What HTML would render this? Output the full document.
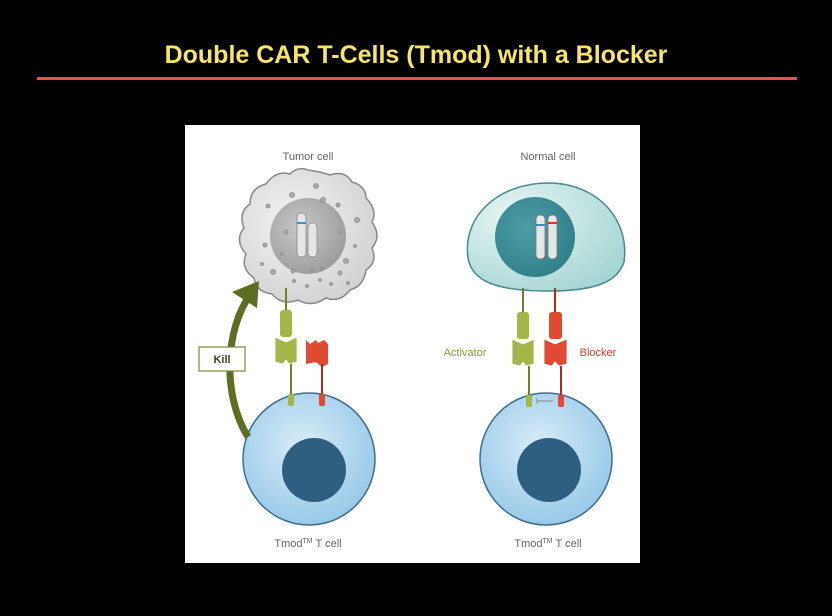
<!DOCTYPE html>
<html><head><style>
html,body{margin:0;padding:0;background:#000;}
body{width:832px;height:616px;overflow:hidden;position:relative;font-family:"Liberation Sans",sans-serif;}
</style></head><body>
<svg width="832" height="616" viewBox="0 0 832 616" xmlns="http://www.w3.org/2000/svg" style="position:absolute;left:0;top:0">
<defs>
<radialGradient id="tum" cx="0.4" cy="0.4" r="0.7"><stop offset="0" stop-color="#f4f4f4"/><stop offset="1" stop-color="#cfcfcf"/></radialGradient>
<radialGradient id="tnuc" cx="0.4" cy="0.4" r="0.7"><stop offset="0" stop-color="#c8c8c8"/><stop offset="1" stop-color="#999"/></radialGradient>
<radialGradient id="tc" cx="0.45" cy="0.4" r="0.7"><stop offset="0" stop-color="#d9ecf8"/><stop offset="1" stop-color="#8ec4e6"/></radialGradient>
<radialGradient id="nc" cx="0.3" cy="0.3" r="0.8"><stop offset="0" stop-color="#e6f5f3"/><stop offset="1" stop-color="#a6d6d4"/></radialGradient>
<radialGradient id="nn" cx="0.4" cy="0.4" r="0.7"><stop offset="0" stop-color="#4e9ea6"/><stop offset="1" stop-color="#2f7c86"/></radialGradient>
</defs>
<text x="416" y="63" text-anchor="middle" font-size="25" font-weight="bold" fill="#f5e56b">Double CAR T-Cells (Tmod) with a Blocker</text>
<rect x="37" y="77" width="760" height="3" fill="#e8533f"/>
<rect x="185" y="125" width="455" height="438" fill="#fff"/>
<text x="308" y="160" text-anchor="middle" font-size="11" fill="#666">Tumor cell</text>
<text x="548" y="160" text-anchor="middle" font-size="11" fill="#666">Normal cell</text>
<!-- tumor cell -->
<path d="M308,170 Q322,172 330,175 Q345,170 352,182 Q366,186 366,198 Q378,210 372,222 Q382,236 372,248 Q378,262 366,270 Q364,286 350,290 Q340,303 326,298 Q312,308 298,300 Q282,306 272,294 Q256,292 254,278 Q240,268 246,254 Q234,240 244,228 Q238,212 250,204 Q250,188 266,184 Q276,170 290,174 Q298,166 308,170 Z" fill="url(#tum)" stroke="#888" stroke-width="1.5"/>
<circle cx="308" cy="236" r="38" fill="url(#tnuc)"/>
<rect x="297" y="213" width="9" height="44" rx="4" fill="#e6e6e6" stroke="#888" stroke-width="0.8"/>
<rect x="297" y="222" width="9" height="2" fill="#3a8fc0"/>
<rect x="308" y="223" width="9" height="34" rx="4" fill="#e6e6e6" stroke="#888" stroke-width="0.8"/>
<g fill="#aaa" stroke="#888" stroke-width="0.8">
<circle cx="316" cy="186" r="2.5"/><circle cx="292" cy="195" r="2.5"/><circle cx="323" cy="200" r="2.5"/><circle cx="338" cy="205" r="2"/><circle cx="268" cy="206" r="2"/><circle cx="357" cy="220" r="2.5"/><circle cx="265" cy="245" r="2"/><circle cx="340" cy="232" r="1.5"/><circle cx="355" cy="246" r="1.5"/><circle cx="262" cy="264" r="1.5"/><circle cx="346" cy="261" r="2.5"/><circle cx="340" cy="273" r="2"/><circle cx="273" cy="272" r="2.5"/><circle cx="293" cy="271" r="2"/><circle cx="294" cy="281" r="1.5"/><circle cx="307" cy="286" r="1.5"/><circle cx="320" cy="280" r="1.5"/><circle cx="331" cy="284" r="1.5"/><circle cx="348" cy="283" r="1.5"/><circle cx="312" cy="270" r="1.5"/><circle cx="322" cy="269" r="1.5"/><circle cx="286" cy="232" r="2"/><circle cx="282" cy="254" r="1.5"/>
</g>
<!-- normal cell -->
<path d="M468,258 C462,215 500,183 548,183 C598,183 630,220 624,262 C618,280 600,291 548,291 C498,291 472,282 468,258 Z" fill="url(#nc)" stroke="#4a8a8c" stroke-width="1.5"/>
<circle cx="535" cy="237" r="40" fill="url(#nn)"/>
<rect x="536" y="215" width="9" height="44" rx="4" fill="#e6e6e6" stroke="#777" stroke-width="0.8"/>
<rect x="536" y="224" width="9" height="2" fill="#3a8fc0"/>
<rect x="548" y="215" width="9" height="44" rx="4" fill="#e6e6e6" stroke="#777" stroke-width="0.8"/>
<rect x="548" y="222" width="9" height="2" fill="#d23a2a"/>
<!-- T cells -->
<circle cx="309" cy="459" r="66" fill="url(#tc)" stroke="#3e6f8c" stroke-width="1.5"/>
<circle cx="314" cy="470" r="32" fill="#2f5f80"/>
<circle cx="546" cy="459" r="66" fill="url(#tc)" stroke="#3e6f8c" stroke-width="1.5"/>
<circle cx="549" cy="470" r="32" fill="#2f5f80"/>
<!-- left receptors -->
<g>
<line x1="286" y1="288" x2="286" y2="312" stroke="#6f7f2a" stroke-width="2"/>
<rect x="280" y="310" width="12" height="27" rx="3" fill="#a3b64a"/>
<path d="M275,337 L286,342 L297,337 L297,362 L289,364 L286,360 L283,364 L275,362 Z" fill="#a3b64a" stroke="#fff" stroke-width="0.8"/>
<line x1="291" y1="364" x2="291" y2="395" stroke="#6f7f2a" stroke-width="2"/>
<rect x="288" y="394" width="6" height="12" rx="2" fill="#a3b64a"/>
<path d="M306,340 L310,344 L316,340 L318,343 L324,340 L328,344 L328,364 L322,367 L316,362 L306,364 Z" fill="#e04a30"/>
<line x1="322" y1="364" x2="322" y2="395" stroke="#a33020" stroke-width="2"/>
<rect x="319" y="394" width="6" height="12" rx="2" fill="#e04a30"/>
</g>
<!-- right receptors -->
<g>
<line x1="523" y1="288" x2="523" y2="314" stroke="#6f7f2a" stroke-width="2"/>
<rect x="517" y="312" width="12" height="27" rx="3" fill="#a3b64a"/>
<path d="M512,339 L523,344 L534,339 L534,364 L526,366 L523,362 L520,366 L512,364 Z" fill="#a3b64a" stroke="#fff" stroke-width="0.8"/>
<line x1="529" y1="366" x2="529" y2="396" stroke="#6f7f2a" stroke-width="2"/>
<rect x="526" y="395" width="6" height="12" rx="2" fill="#a3b64a"/>
<line x1="555" y1="288" x2="555" y2="314" stroke="#a33020" stroke-width="2"/>
<rect x="549" y="312" width="13" height="27" rx="3" fill="#e04a30"/>
<path d="M544,339 L555,344 L567,339 L567,364 L559,366 L555,362 L552,366 L544,364 Z" fill="#e04a30" stroke="#fff" stroke-width="0.8"/>
<line x1="561" y1="366" x2="561" y2="396" stroke="#a33020" stroke-width="2"/>
<rect x="558" y="395" width="6" height="12" rx="2" fill="#e04a30"/>
<line x1="537" y1="401" x2="553" y2="401" stroke="#888" stroke-width="1"/>
<line x1="537" y1="398" x2="537" y2="404" stroke="#888" stroke-width="1"/>
</g>
<text x="465" y="356" text-anchor="middle" font-size="11" fill="#8a9a3a">Activator</text>
<text x="598" y="356" text-anchor="middle" font-size="11" fill="#c8402a">Blocker</text>
<!-- kill arrow -->
<path d="M248,437 C222,395 225,330 250,295" fill="none" stroke="#5b6e23" stroke-width="7"/>
<path d="M232,292 L259,281 L257,308 Z" fill="#5b6e23"/>
<rect x="199" y="347" width="46" height="24" fill="#fff" stroke="#7a8a3a" stroke-width="1.2"/>
<text x="222" y="363" text-anchor="middle" font-size="11" font-weight="bold" fill="#3a4520">Kill</text>
<text x="308" y="547" text-anchor="middle" font-size="11" fill="#666">Tmod<tspan font-size="7" dy="-4">TM</tspan><tspan dy="4"> T cell</tspan></text>
<text x="548" y="547" text-anchor="middle" font-size="11" fill="#666">Tmod<tspan font-size="7" dy="-4">TM</tspan><tspan dy="4"> T cell</tspan></text>
</svg>
</body></html>
